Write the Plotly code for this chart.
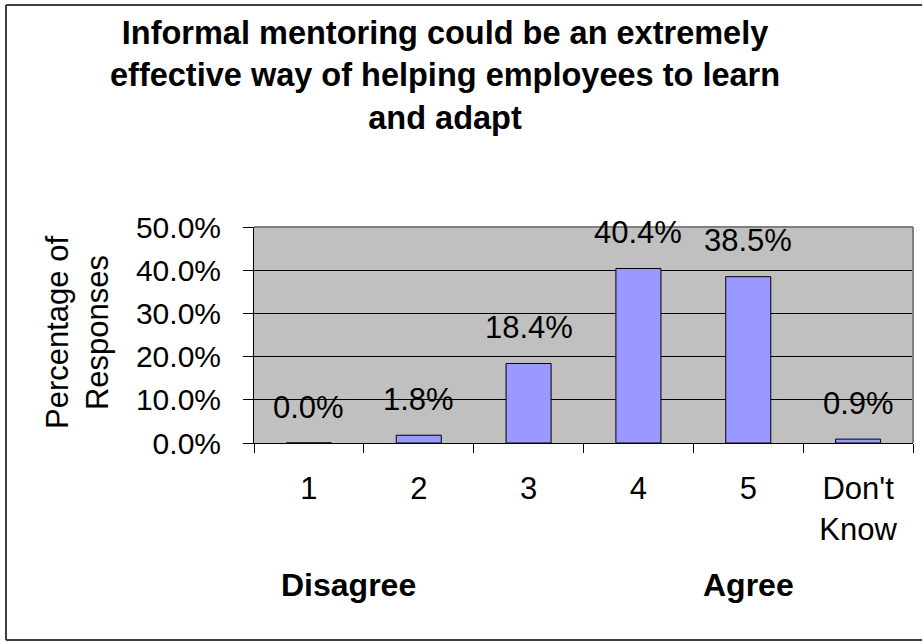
import plotly.graph_objects as go

# Survey responses (share of respondents per rating)
categories = ["1", "2", "3", "4", "5", "Don't<br>Know"]
responses = [0.0, 0.018, 0.184, 0.404, 0.385, 0.009]
y_ticks = [0.0, 0.1, 0.2, 0.3, 0.4, 0.5]

title_text = ("Informal mentoring could be an extremely<br>"
              "effective way of helping employees to learn<br>"
              "and adapt")

W, H = 922, 642
L, R, T, B = 254, 913, 227, 443  # plot area in pixels


def px_x(x):
    return (x - L) / (R - L)


def px_y(y):
    return (B - y) / (B - T)


FONT = "Liberation Sans, Arial, sans-serif"

fig = go.Figure()
fig.add_trace(go.Bar(
    x=categories,
    y=responses,
    marker=dict(color="#9999FF", line=dict(color="black", width=1)),
    hoverinfo="skip",
))

annotations = []
# value labels above each bar (category axis positions are indices)
for i, v in enumerate(responses):
    annotations.append(dict(
        x=i, y=v, xref="x", yref="y", text=f"{v:.1%}", showarrow=False,
        yanchor="middle", xanchor="center", yshift=36,
        font=dict(family=FONT, size=31, color="black"),
    ))

# chart title
annotations.append(dict(
    x=px_x(445), y=px_y(75), xref="paper", yref="paper", text=title_text,
    showarrow=False, xanchor="center", yanchor="middle", align="center",
    font=dict(family=FONT, size=32.5, color="black", weight="bold"),
))

# y-axis title
annotations.append(dict(
    x=px_x(77), y=px_y(333), xref="paper", yref="paper",
    text="Percentage of<br>Responses", textangle=-90, showarrow=False,
    xanchor="center", yanchor="middle", align="center",
    font=dict(family=FONT, size=31, color="black"),
))

# scale end labels
for label, cx in [("Disagree", 348), ("Agree", 748)]:
    annotations.append(dict(
        x=px_x(cx), y=px_y(585), xref="paper", yref="paper", text=label,
        showarrow=False, xanchor="center", yanchor="middle",
        font=dict(family=FONT, size=32, color="black", weight="bold"),
    ))

border = dict(color="#404040", width=2)
shapes = [
    # outer chart border: left, top and bottom edges
    dict(type="line", xref="paper", yref="paper",
         x0=px_x(6), x1=px_x(6), y0=px_y(5), y1=px_y(640),
         line=border, layer="above"),
    dict(type="line", xref="paper", yref="paper",
         x0=px_x(6), x1=px_x(922), y0=px_y(5), y1=px_y(5),
         line=border, layer="above"),
    dict(type="line", xref="paper", yref="paper",
         x0=px_x(6), x1=px_x(922), y0=px_y(640), y1=px_y(640),
         line=border, layer="above"),
    # grey plot-area frame on top and right
    dict(type="line", xref="paper", yref="paper", x0=0, x1=1, y0=1, y1=1,
         line=dict(color="#808080", width=2), layer="above"),
    dict(type="line", xref="paper", yref="paper", x0=1, x1=1, y0=0, y1=1,
         line=dict(color="#808080", width=2), layer="above"),
]

fig.update_layout(
    width=W, height=H,
    margin=dict(l=L, r=W - R, t=T, b=H - B, autoexpand=False),
    paper_bgcolor="white",
    plot_bgcolor="#C0C0C0",
    bargap=0.59,
    showlegend=False,
    annotations=annotations,
    shapes=shapes,
    font=dict(family=FONT, size=31, color="black"),
)

fig.update_xaxes(
    type="category",
    showline=True, linecolor="black", linewidth=1,
    ticks="outside", tickson="boundaries", ticklen=9, tickcolor="black",
    tickwidth=1, showgrid=False, ticklabelstandoff=18,
    tickfont=dict(family=FONT, size=31, color="black"),
)

fig.update_yaxes(
    range=[0, 0.5], tickvals=y_ticks, tickformat=".1%",
    showline=True, linecolor="black", linewidth=1,
    ticks="outside", ticklen=10, tickcolor="black", tickwidth=1,
    showgrid=True, gridcolor="black", gridwidth=1, zeroline=False,
    ticklabelstandoff=16,
    tickfont=dict(family=FONT, size=30, color="black"),
)

fig.write_html("out.html")
